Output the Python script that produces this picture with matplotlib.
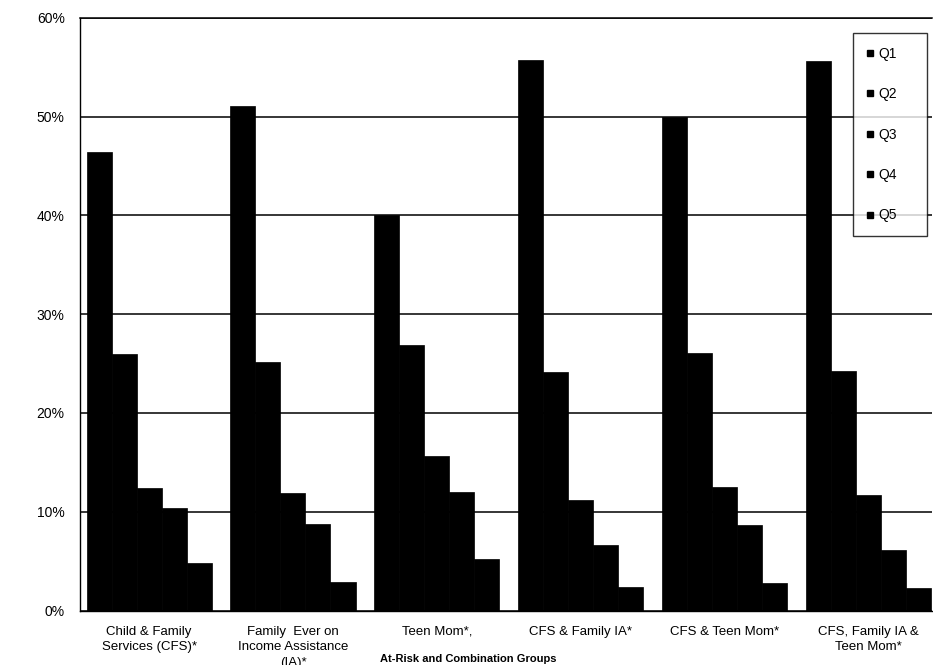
import matplotlib
matplotlib.use("Agg")
import matplotlib.pyplot as plt
from matplotlib.lines import Line2D
import numpy as np

plt.rcParams['font.family'] = ['Liberation Sans', 'DejaVu Sans']

categories = [
    "Child & Family\nServices (CFS)*",
    "Family  Ever on\nIncome Assistance\n(IA)*",
    "Teen Mom*,",
    "CFS & Family IA*",
    "CFS & Teen Mom*",
    "CFS, Family IA &\nTeen Mom*",
]
series = ["Q1", "Q2", "Q3", "Q4", "Q5"]
q1 = [46.4, 51.1, 40.0, 55.7, 50.0, 55.6]
q2 = [26.0, 25.2, 26.9, 24.1, 26.1, 24.2]
q3 = [12.4, 11.9, 15.6, 11.2, 12.5, 11.7]
q4 = [10.4, 8.8, 12.0, 6.6, 8.7, 6.1]
q5 = [4.8, 2.9, 5.2, 2.4, 2.8, 2.3]
values = [q1, q2, q3, q4, q5]
yticks = [0, 10, 20, 30, 40, 50, 60]
ytick_labels = ["0%", "10%", "20%", "30%", "40%", "50%", "60%"]
xlabel = "At-Risk and Combination Groups"

W, H = 933, 665
fig = plt.figure(figsize=(W / 100, H / 100), dpi=100)
ax = fig.add_axes([80 / W, (H - 610.5) / H, 852 / W, 592.8 / H])

x = np.arange(len(categories))
bw = 0.174
for j, vals in enumerate(values):
    ax.bar(x + (j - 2) * bw, vals, width=bw, color="black", edgecolor="black",
           linewidth=0.5, label=series[j], zorder=3)

ax.set_xlim(-0.481, 5.444)
ax.set_ylim(0, 60)
ax.set_yticks(yticks)
ax.set_yticklabels(ytick_labels, fontsize=10)
ax.set_xticks(x)
ax.set_xticklabels(categories, fontsize=9.5, linespacing=1.4, va="top")
ax.tick_params(axis="both", length=0)
ax.tick_params(axis="y", pad=11)
ax.tick_params(axis="x", pad=11)
ax.yaxis.grid(True, color="black", linewidth=1.1, zorder=0)
ax.set_axisbelow(True)
ax.spines["right"].set_visible(False)
ax.spines["left"].set_linewidth(1.0)
ax.spines["top"].set_linewidth(1.1)
ax.spines["bottom"].set_linewidth(1.0)

ax.set_xlabel(xlabel, fontsize=8, fontweight="bold")
ax.xaxis.set_label_coords((468 - 80) / 852, -(659 - 610.5) / 592.8)
ax.xaxis.label.set_va("center")

handles = [Line2D([0], [0], marker="s", color="black", linestyle="none",
                  markersize=5) for _ in series]
leg = fig.legend(handles, series, loc="upper left",
                 bbox_to_anchor=(853 / W, 1 - 240 / H, 74 / W, 207 / H),
                 bbox_transform=fig.transFigure, mode="expand",
                 borderaxespad=0, fontsize=10, labelspacing=1.9,
                 handlelength=0.5, handletextpad=0.3,
                 borderpad=1.0, frameon=True, fancybox=False)
leg.get_frame().set_edgecolor("black")
leg.get_frame().set_linewidth(1.0)

fig.savefig("out.png", dpi=100)
